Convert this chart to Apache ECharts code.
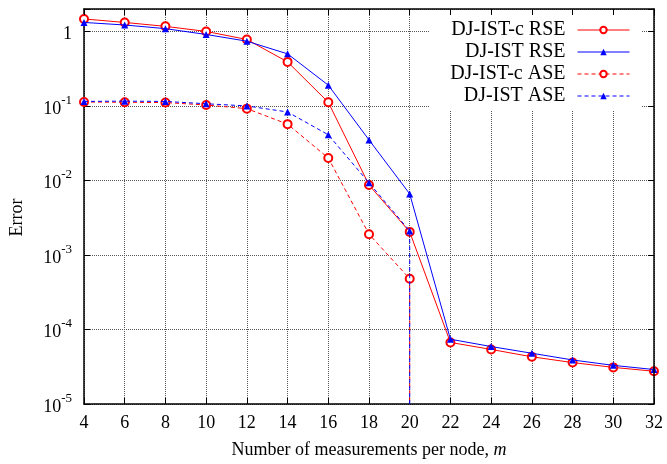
<!DOCTYPE html>
<html>
<head>
<meta charset="utf-8">
<script src="https://cdn.jsdelivr.net/npm/echarts@6/dist/echarts.min.js"></script>
<style>
html, body { margin: 0; background: #fff; }
#chart { width: 667px; height: 464px; }
</style>
</head>
<body>
<div id="chart"></div>
<script>
// measurements per node
const mValues = [4, 6, 8, 10, 12, 14, 16, 18, 20, 22, 24, 26, 28, 30, 32]
const rseC = [1.47, 1.32, 1.17, 1.0, 0.78, 0.39, 0.112, 0.0087, 0.00204, 6.7e-5, 5.4e-5, 4.3e-5, 3.6e-5, 3.1e-5, 2.75e-5]
const rse = [1.32, 1.22, 1.09, 0.91, 0.74, 0.5, 0.19, 0.035, 0.0066, 7.4e-5, 5.9e-5, 4.8e-5, 3.9e-5, 3.3e-5, 2.9e-5]
// ASE is zero past m = 20, so its line drops to the bottom of the axis
const aseC = [0.113, 0.112, 0.111, 0.103, 0.092, 0.057, 0.020, 0.0019, 0.00048]
const ase = [0.115, 0.116, 0.115, 0.107, 0.1, 0.083, 0.041, 0.0093, 0.0021]
const yMin = 1e-5
const yMax = 2

const FONT = 'Liberation Serif'

function pairs(vals, dropToZero) {
  const out = vals.map((v, i) => [mValues[i], v])
  if (dropToZero) {
    const last = out[out.length - 1]
    out.push({ value: [last[0], yMin], symbol: 'none' })
  }
  return out
}

function yLabel(v) {
  const e = Math.round(Math.log10(v))
  if (Math.abs(Math.log10(v) - e) > 1e-6) return ''
  if (e === 0) return '{b|1}'
  return '{b|10}{s|' + e + '}'
}

const chart = echarts.init(document.getElementById('chart'))
const gridLine = { show: true, lineStyle: { type: 'dotted', color: '#555', width: 1 } }
const tickIn = { show: true, inside: true, length: 6, lineStyle: { color: '#000', width: 1 } }
const axisLn = { show: true, lineStyle: { color: '#000', width: 1.5 } }

chart.setOption({
  animation: false,
  grid: { left: 83, right: 13, top: 9, bottom: 59 },
  legend: {
    orient: 'vertical',
    align: 'right',
    right: 26,
    top: 11,
    padding: [9, 11, 4, 21],
    backgroundColor: '#fff',
    itemWidth: 52,
    itemHeight: 8,
    itemGap: 2,
    lineStyle: { width: 1 },
    textStyle: { fontFamily: FONT, fontSize: 20, color: '#000', padding: [0, 7, 0, 0], lineHeight: 19 },
    data: ['DJ-IST-c RSE', 'DJ-IST RSE', 'DJ-IST-c ASE', 'DJ-IST ASE']
  },
  xAxis: [{
    type: 'value',
    min: 4,
    max: 32,
    interval: 2,
    name: 'Number of measurements per node, {i|m}',
    nameLocation: 'middle',
    nameGap: 37,
    nameTextStyle: {
      fontFamily: FONT, fontSize: 18, color: '#000',
      rich: { i: { fontFamily: FONT, fontSize: 18, fontStyle: 'italic', color: '#000' } }
    },
    axisLine: axisLn,
    axisTick: tickIn,
    axisLabel: { fontFamily: FONT, fontSize: 18, color: '#000', margin: 10 },
    splitLine: gridLine
  }, {
    type: 'value',
    position: 'top',
    min: 4,
    max: 32,
    interval: 2,
    z: 10,
    axisLine: axisLn,
    axisTick: tickIn,
    axisLabel: { show: false },
    splitLine: { show: false }
  }],
  yAxis: [{
    type: 'log',
    logBase: 10,
    min: yMin,
    max: yMax,
    name: 'Error',
    nameLocation: 'middle',
    nameGap: 58,
    nameTextStyle: { fontFamily: FONT, fontSize: 18, color: '#000', padding: [0, 22, 0, 0] },
    axisLine: axisLn,
    axisTick: tickIn,
    axisLabel: {
      margin: 12,
      formatter: yLabel,
      rich: {
        b: { fontFamily: FONT, fontSize: 18, color: '#000', verticalAlign: 'bottom', lineHeight: 24 },
        s: { fontFamily: FONT, fontSize: 13, color: '#000', verticalAlign: 'top', lineHeight: 24 }
      }
    },
    splitLine: gridLine
  }, {
    type: 'log',
    logBase: 10,
    min: yMin,
    max: yMax,
    position: 'right',
    z: 10,
    axisLine: axisLn,
    axisTick: tickIn,
    axisLabel: { show: false },
    splitLine: { show: false }
  }],
  series: [{
    name: 'DJ-IST-c RSE',
    type: 'line',
    data: pairs(rseC, false),
    symbol: 'emptyCircle',
    symbolSize: 8,
    color: '#ff0000',
    lineStyle: { width: 1, color: '#ff0000' },
    itemStyle: { color: '#ff0000', borderColor: '#ff0000', borderWidth: 1 },
    z: 3
  }, {
    name: 'DJ-IST RSE',
    type: 'line',
    data: pairs(rse, false),
    symbol: 'triangle',
    symbolSize: 7,
    color: '#0000ff',
    lineStyle: { width: 1, color: '#0000ff' },
    itemStyle: { color: '#0000ff' },
    z: 4
  }, {
    name: 'DJ-IST-c ASE',
    type: 'line',
    data: pairs(aseC, true),
    symbol: 'emptyCircle',
    symbolSize: 8,
    color: '#ff0000',
    lineStyle: { width: 1, color: '#ff0000', type: [4, 3] },
    itemStyle: { color: '#ff0000', borderColor: '#ff0000', borderWidth: 1 },
    z: 3
  }, {
    name: 'DJ-IST ASE',
    type: 'line',
    data: pairs(ase, true),
    symbol: 'triangle',
    symbolSize: 7,
    color: '#0000ff',
    lineStyle: { width: 1, color: '#0000ff', type: [4, 3] },
    itemStyle: { color: '#0000ff' },
    z: 4
  }]
})
</script>
</body>
</html>
